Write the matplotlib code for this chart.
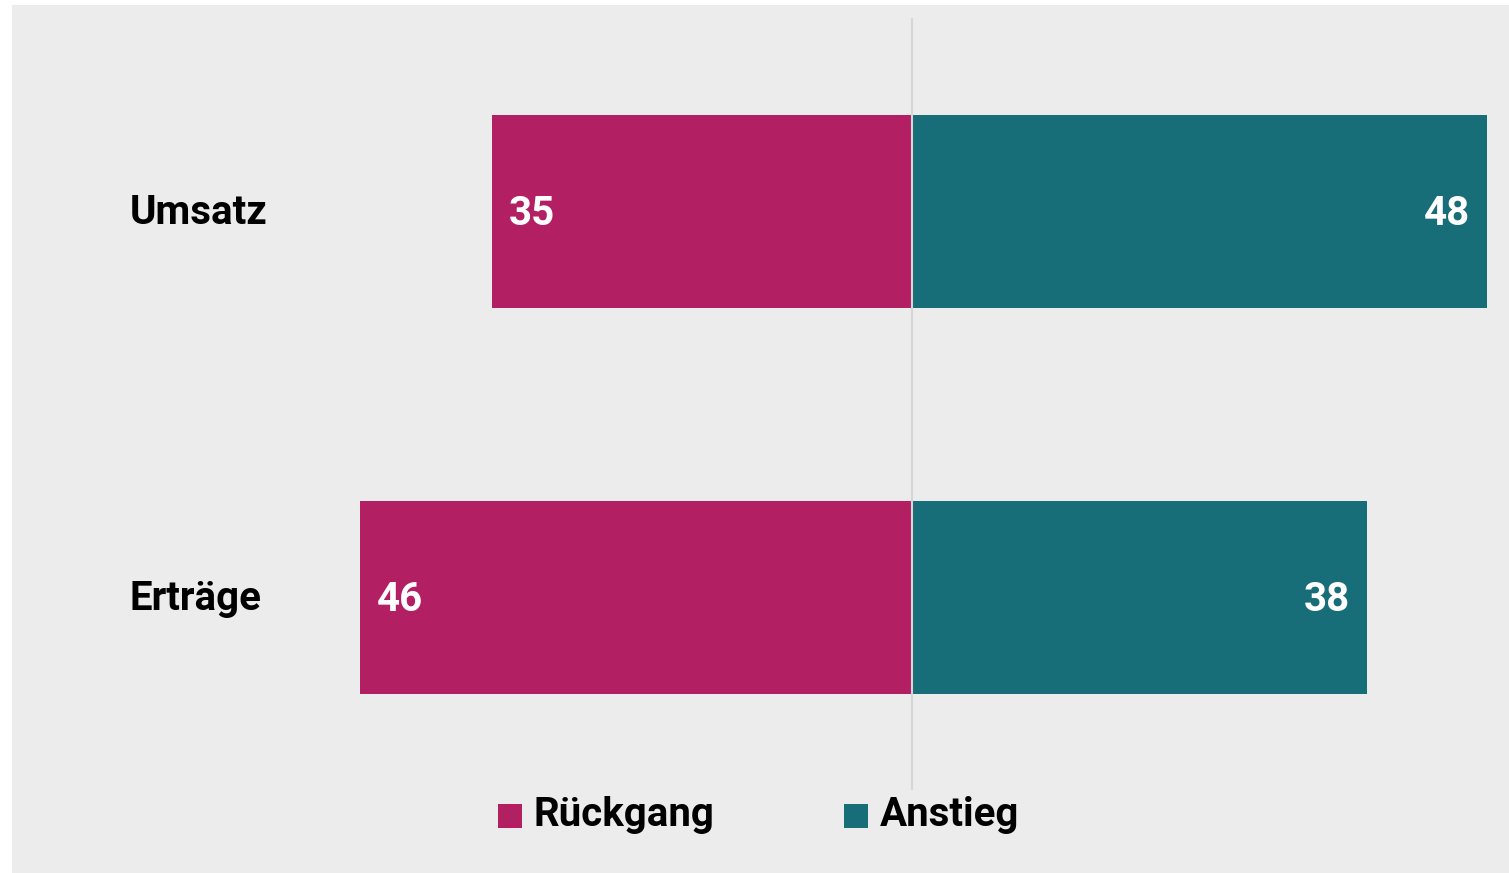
import matplotlib.pyplot as plt
from matplotlib.patches import Rectangle

kategorien = ["Umsatz", "Erträge"]
rueckgang = [35, 46]
anstieg = [48, 38]
serien = ["Rückgang", "Anstieg"]

farbe_rueck = "#b21f62"
farbe_anst = "#176e78"
hintergrund = "#ececec"

plt.rcParams["font.family"] = ["Roboto", "DejaVu Sans"]
plt.rcParams["font.weight"] = "bold"

W, H = 1509, 873
fig = plt.figure(figsize=(W / 100, H / 100), dpi=100, facecolor="white")
fig.patches.append(Rectangle((12 / W, 0), 1 - 12 / W, (H - 5) / H,
                             transform=fig.transFigure, facecolor=hintergrund,
                             edgecolor="none", zorder=-5))

# Achse: 0 liegt bei x=911 px, ca. 12 px pro Einheit
s = 11.99
x0 = 911.5
lim_l, lim_r = -50, 49
ax = fig.add_axes([(x0 + lim_l * s) / W, (H - 790) / H,
                   (lim_r - lim_l) * s / W, 772 / H])
ax.set_zorder(1)
ax.set_facecolor("none")
ax.set_xlim(lim_l, lim_r)
ax.set_ylim(1.5, -0.5)

y = list(range(len(kategorien)))
neg = [-v for v in rueckgang]
ax.barh(y, neg, height=0.5, color=farbe_rueck, zorder=2)
ax.barh(y, anstieg, height=0.5, color=farbe_anst, zorder=2)
ax.axvline(0, color="#d6d6d6", lw=1.5, zorder=3)

fs = 29
for i in y:
    ax.annotate(str(rueckgang[i]), (neg[i], i), xytext=(12, -2), textcoords="offset points",
                ha="left", va="center", color="white", fontsize=fs, fontweight="bold", zorder=4)
    ax.annotate(str(anstieg[i]), (anstieg[i], i), xytext=(-12, -2), textcoords="offset points",
                ha="right", va="center", color="white", fontsize=fs, fontweight="bold", zorder=4)
    # Kategorienamen links
    ax.annotate(kategorien[i], (0, i), xycoords=("figure fraction", "data"),
                xytext=(130 / W, -1.5), textcoords=("figure fraction", "offset points"),
                ha="left", va="center", fontsize=fs, fontweight="bold", color="black",
                annotation_clip=False)

for sp in ax.spines.values():
    sp.set_visible(False)
ax.set_xticks([])
ax.set_yticks([])

# Legende
leg_pos = [498, 844]
for px, name, col in zip(leg_pos, serien, [farbe_rueck, farbe_anst]):
    fig.patches.append(Rectangle((px / W, (H - 828) / H), 24 / W, 24 / H,
                                 transform=fig.transFigure, facecolor=col,
                                 edgecolor="none", zorder=2))
    fig.text((px + 36) / W, (H - 815) / H, name, ha="left", va="center",
             fontsize=fs, fontweight="bold", color="black")

fig.savefig("out.png", dpi=100, facecolor=fig.get_facecolor())
